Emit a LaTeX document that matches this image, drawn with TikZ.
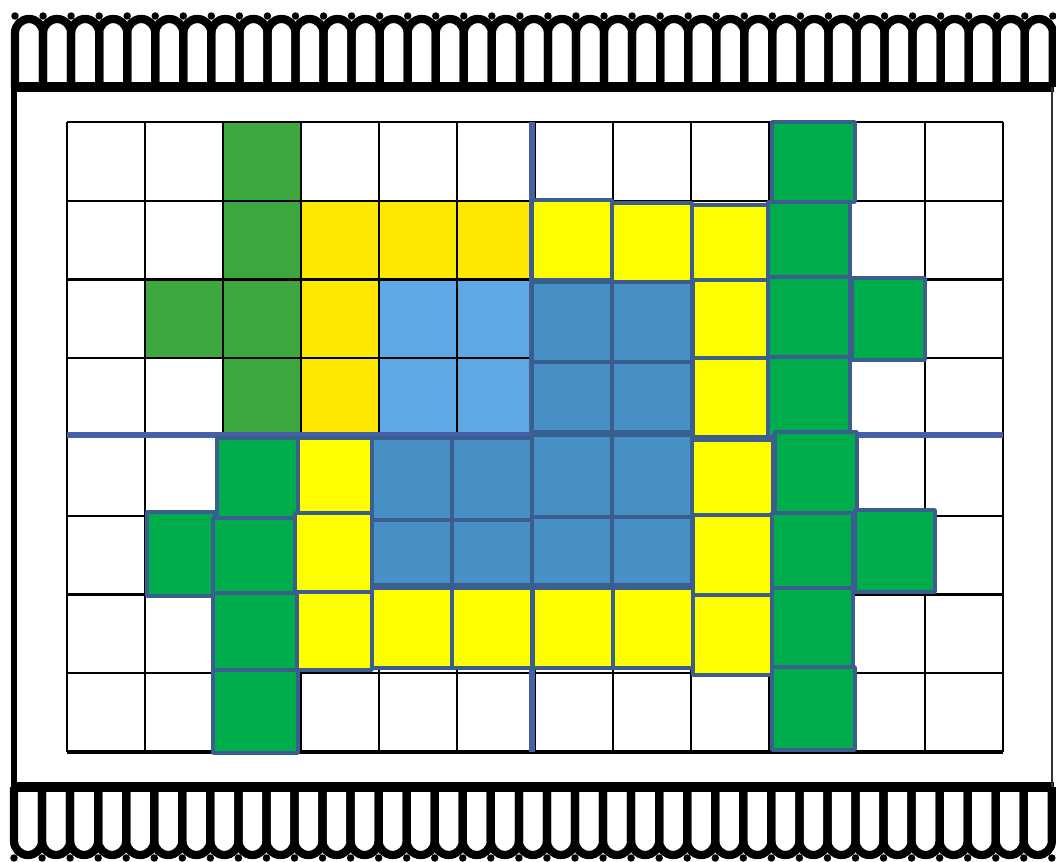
\documentclass[tikz,border=0pt]{standalone}
\definecolor{gflat}{HTML}{3CA83F}
\definecolor{yflat}{HTML}{FFE800}
\definecolor{bflat}{HTML}{5EA9E4}
\definecolor{gbox}{HTML}{00AD4C}
\definecolor{ybox}{HTML}{FFFF00}
\definecolor{bbox}{HTML}{4690C5}
\definecolor{celledge}{HTML}{3A5E8E}
\definecolor{axisblue}{HTML}{4560A8}
\tikzset{
  gridline/.style={black, line width=1.6pt},
  axisline/.style={axisblue, line width=3.8pt},
  cellbox/.style={draw=celledge, line width=2.6pt, line join=round},
  frameline/.style={black, line width=6.8pt},
  combline/.style={black, line width=6.2pt, line join=round},
}
\begin{document}
\begin{tikzpicture}[x=0.75pt,y=-0.75pt]
\useasboundingbox (0,0) rectangle (1056,862);
\fill[white] (0,0) rectangle (1056,862);
% flat cells (upper-left quarter)
\foreach \c/\r/\col in {2/0/gflat,2/1/gflat,2/2/gflat,2/3/gflat,1/2/gflat,
  3/1/yflat,4/1/yflat,5/1/yflat,3/2/yflat,3/3/yflat,
  4/2/bflat,5/2/bflat,4/3/bflat,5/3/bflat}
  \fill[\col] ({67+78*\c},{122+78.75*\r}) rectangle ({67+78*(\c+1)},{122+78.75*(\r+1)});
% grid
\foreach \i in {0,...,12}
  \draw[gridline] ({67+78*\i},122) -- ({67+78*\i},752);
\foreach \j in {0,...,8}
  \draw[gridline] (67,{122+78.75*\j}) -- (1003,{122+78.75*\j});
\draw[black, line width=2.6pt] (67,752) -- (1003,752);
% axes
\draw[axisline] (67,435) -- (1003,435);
\draw[axisline] (532,122) -- (532,752);
% bordered cells
\foreach \a/\b/\c/\d/\col in {
  772/122/855/202/gbox,
  532/200/612/280/ybox, 612/203/692/283/ybox, 692/205/768/280/ybox,
  768/202/850/277/gbox,
  532/282/612/362/bbox, 612/282/692/362/bbox,
  693/280/768/358/ybox,
  768/277/850/357/gbox, 852/278/925/360/gbox,
  532/362/612/432/bbox, 612/362/692/432/bbox,
  693/358/768/437/ybox,
  768/357/850/437/gbox,
  532/435/612/518/bbox, 612/435/692/518/bbox,
  692/440/773/515/ybox,
  775/432/857/513/gbox,
  532/517/612/585/bbox, 612/517/692/585/bbox,
  693/515/772/595/ybox,
  772/513/853/588/gbox, 855/510/935/592/gbox,
  533/588/613/668/ybox, 613/588/693/668/ybox, 693/595/773/675/ybox,
  772/588/853/668/gbox,
  772/667/855/750/gbox,
  217/438/298/518/gbox,
  298/438/372/513/ybox,
  372/438/452/520/bbox, 452/438/532/520/bbox,
  147/512/215/596/gbox,
  213/518/297/593/gbox,
  295/513/372/592/ybox,
  372/520/452/585/bbox, 452/520/532/585/bbox,
  213/593/297/672/gbox,
  297/592/372/670/ybox,
  372/588/452/668/ybox, 452/588/532/668/ybox,
  213/670/298/753/gbox}
  \draw[cellbox,fill=\col] (\a,\b) rectangle (\c,\d);
% frame
\draw[frameline] (11,87) -- (1054,87);
\draw[frameline] (11,787) -- (1054,787);
\draw[black, line width=5.2pt] (14,84) -- (14,790);
\draw[black!80, line width=2.2pt] (1052,84) -- (1052,790);
% combs
\foreach \k in {0,...,36}{
  \draw[combline, rounded corners=10.5pt] ({15+28.05*\k},87) -- ({15+28.05*\k},19)
    -- ({15+28.05*(\k+1)},19) -- ({15+28.05*(\k+1)},87);
  \draw[combline, rounded corners=10.5pt] ({14+28.05*\k},787) -- ({14+28.05*\k},855)
    -- ({14+28.05*(\k+1)},855) -- ({14+28.05*(\k+1)},787);
}
\foreach \k in {0,...,37}{
  \fill ({15+28.05*\k},16) circle[radius=2.8pt];
  \fill ({14+28.05*\k},858) circle[radius=2.8pt];
}
\end{tikzpicture}
\end{document}
